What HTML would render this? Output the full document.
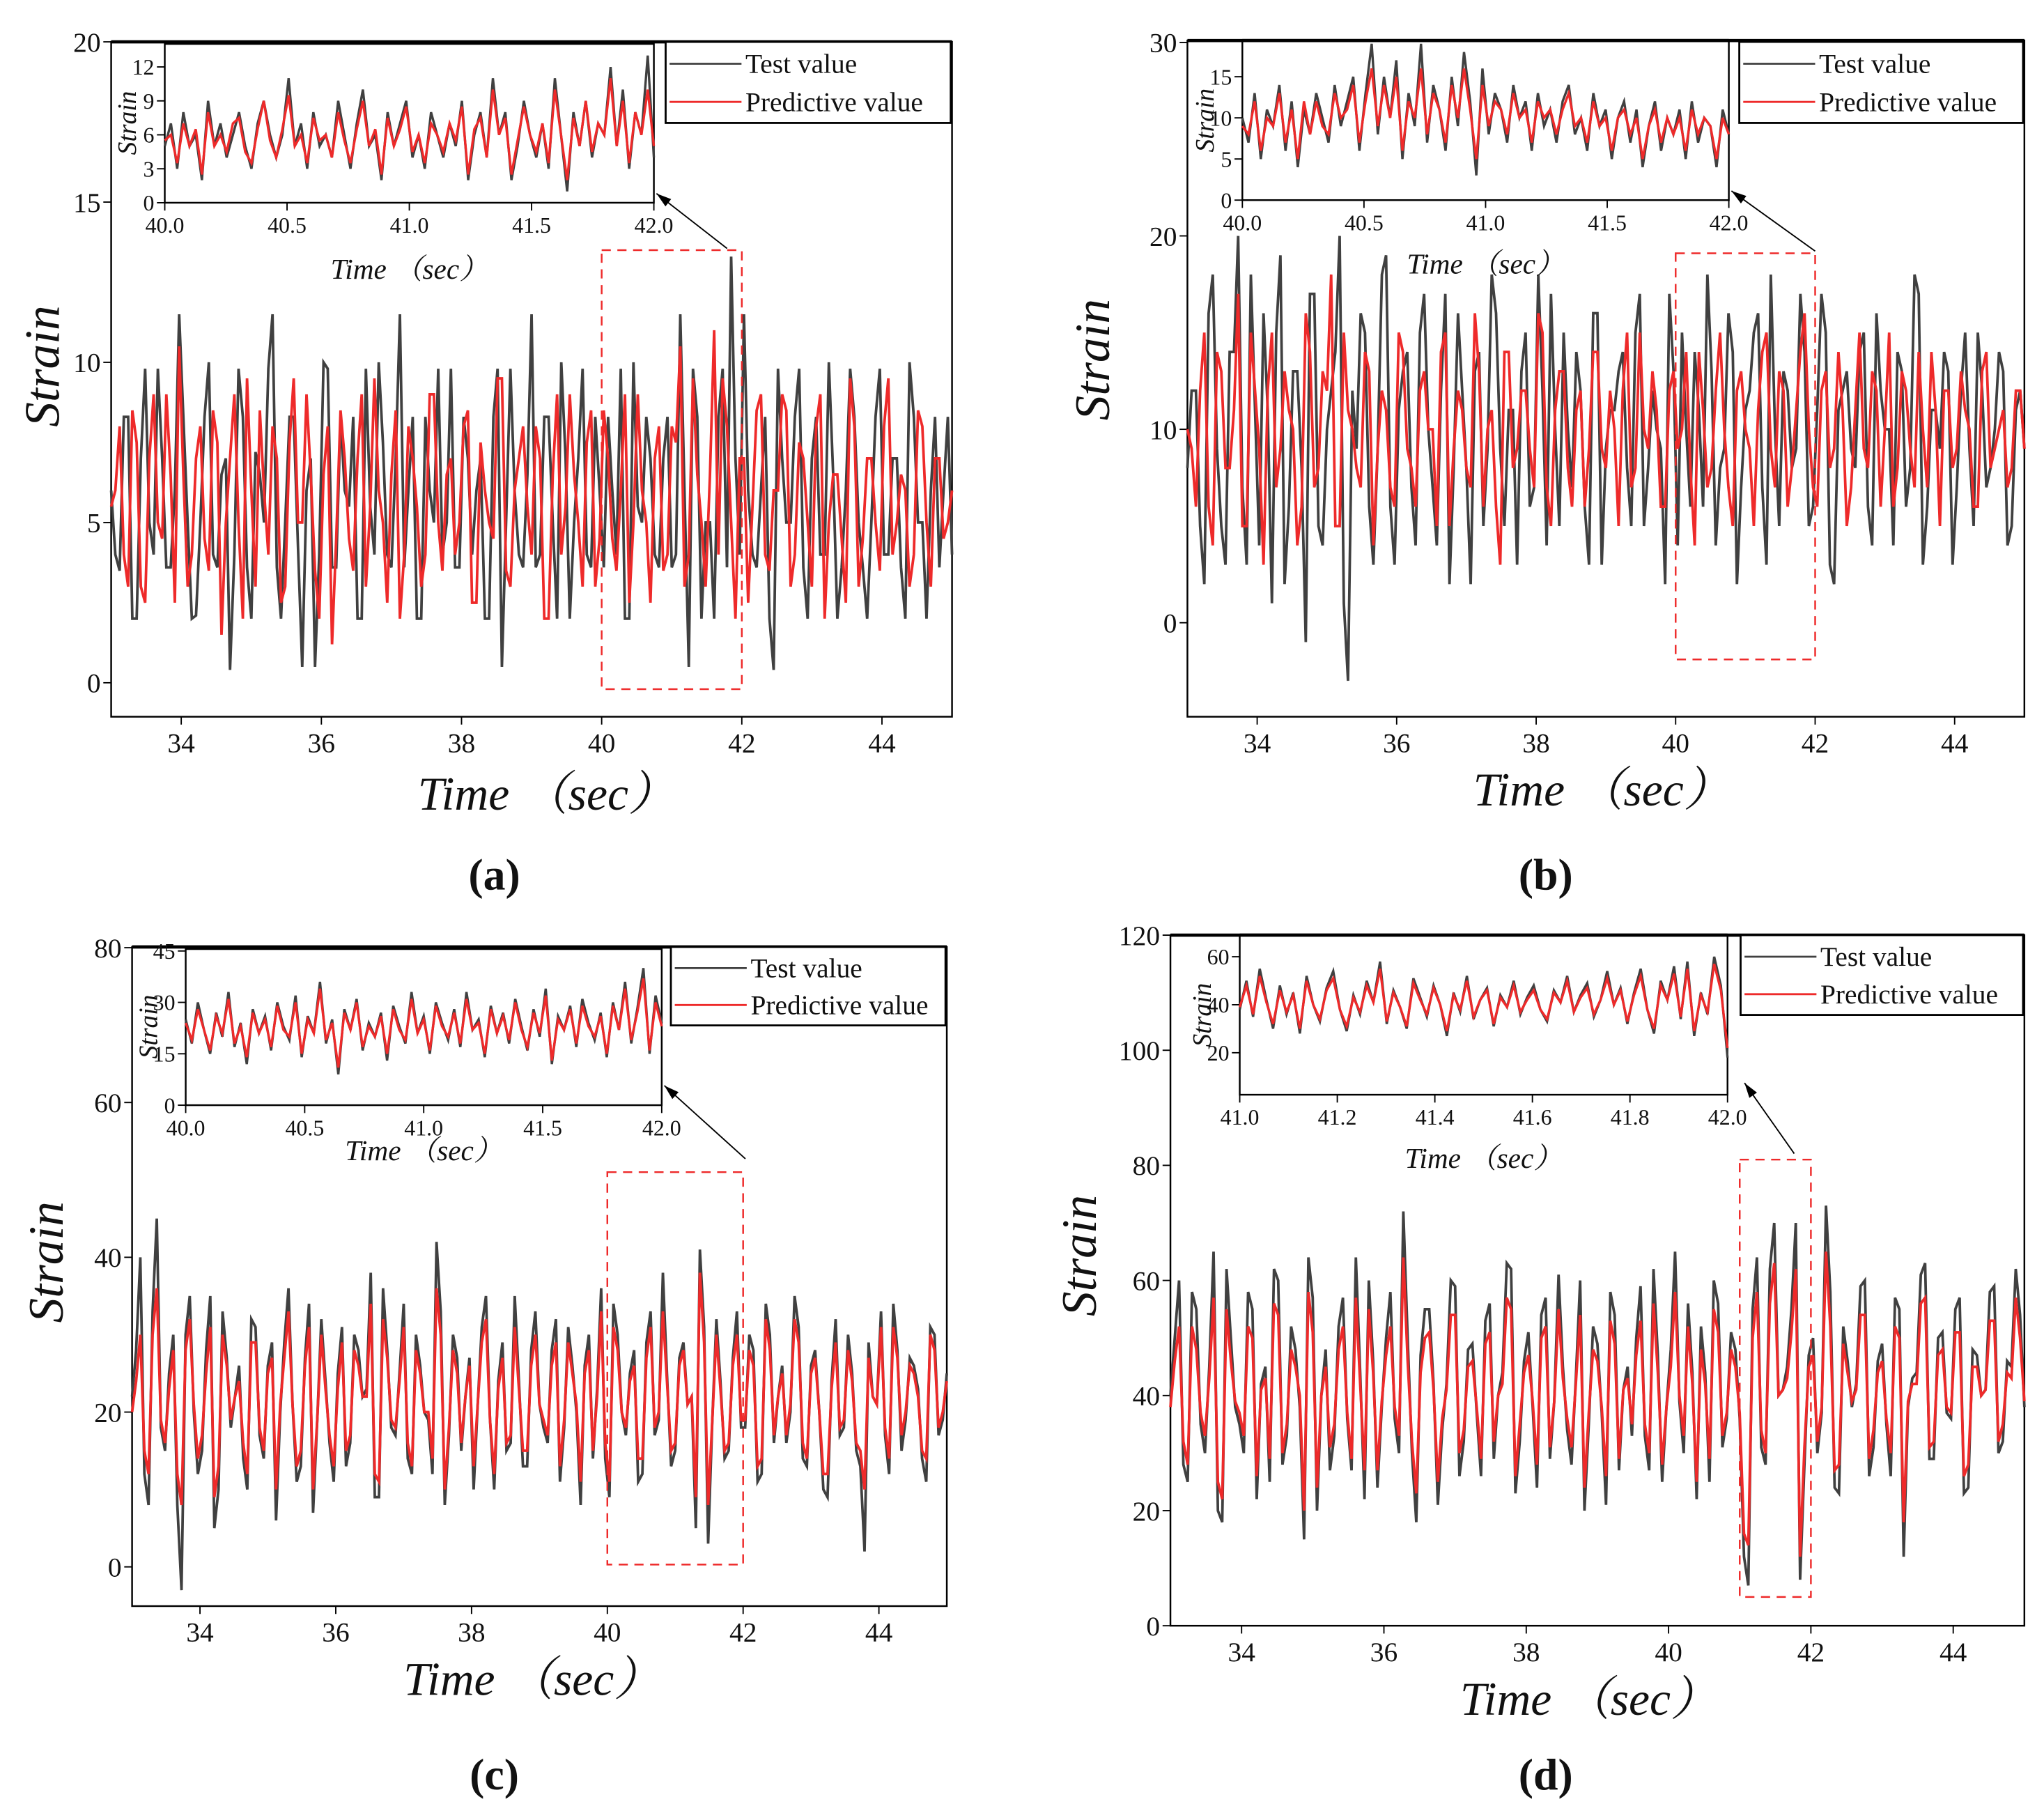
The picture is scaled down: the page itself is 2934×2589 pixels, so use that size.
<!DOCTYPE html>
<html><head><meta charset="utf-8"><style>
html,body{margin:0;padding:0;background:#fff}
svg{display:block}
svg text{font-family:"Liberation Serif","DejaVu Serif","Noto Serif CJK SC",serif;fill:#111}
</style></head><body>
<svg id="fig" width="2934" height="2589" viewBox="0 0 1563 1379.3" preserveAspectRatio="none" font-family="'Liberation Serif', 'DejaVu Serif', serif" xmlns="http://www.w3.org/2000/svg"></svg>
<script>
// ---------- DATA ----------
// even samples
const aTest=[6,3.5,8.3,2,9.8,4,7,3.6,11.5,5,2.1,8.3,4,6.5,0.4,9.8,3.6,7.2,5,11.5,2,8.3,4.2,6,0.5,10,3.6,8.3,5.5,2,9.8,4,7.5,3.6,11.5,6,2,8.3,5,4,9.8,3.6,7,6,2,8.3,0.5,9.8,4,6.5,3.6,8.3,5,10,2,7,4,8.3,3.6,6,9.8,2,5.5,8.3,4,7,3.6,11.5,0.5,8.3,5,2,9.8,13.3,4,6,3.6,8.3,0.4,7,5,9.8,2,8.3,4,6.5,3.6,9.8,5,2,8.3,4,7,3.6,10,5,2,8.3,6,4];
// odd samples
const aTestMid=[4,8.3,2,7,5,9.8,3.6,6,8.3,2,5,10,3.6,7,4,8.3,2,6.5,9.8,3.6,5,8.3,0.5,7,4,9.8,3.6,6,8.3,2,5.5,10,4,7,3.6,8.3,2,6,9.8,5,3.6,8.3,4,7,2,9.8,5,6,3.6,11.5,4,8.3,2,7,5,9.8,3.6,6,8.3,4,2,10,5,7,3.6,8.3,4,6,9.8,2,5,8.3,3.6,7,11.5,4,6,2,9.8,5,8.3,3.6,7,4,10,2,6,8.3,3.6,5,9.8,4,7,2,8.3,5,6,3.6,8.3];
const aPred=[5.5,8,3,7.5,2.5,9,4.5,6.5,10.5,3,7,4.5,8.5,1.5,7,5,9.5,3,6,8,2.5,7.5,5,9,3.5,6.5,1.2,8.5,4.5,7,3,9.5,5,6.5,2,8,5.5,4,9,3.5,7,5,8.5,2.5,6,4.5,9.5,3,7,5.5,8,2,6.5,4,9,5,7.5,3,8.5,4.5,6,2.5,9,5,7,3.5,8,10.5,4,6.5,3,11,9.5,5,7,2.5,8.5,4,6,9,3,7.5,5,8,2,6.5,4.5,9.5,3,7,5,8,4,6.5,3,8.5,5,7,4.5,6];
const aPredMid=[6,4,8.5,3,7,5,9,2.5,6.5,4,8,3.5,7.5,5,9,2,6,8.5,4,7,3,9.5,5,6.5,2,8,4.5,7,3.5,9,5.5,6,2.5,8.5,4,7,3,9,5,6.5,4,8,2.5,7.5,5,9.5,3.5,6,8,4,7,2,9,5.5,6.5,3,8.5,4.5,7,3.5,9,5,6,2.5,8,4,7.5,3,9.5,5,6.5,4,8,2,7,5.5,9,3.5,6,8.5,4,7,3,9,5,6.5,2.5,8,4.5,7,3.5,9.5,5,6,4,8,3,7,5];
const aInTest=[5,7,3,8,5,6,2,9,5,7,4,6,8,5,3,7,9,6,4,6,11,5,7,3,8,5,6,4,9,6,3,7,10,5,6,2,8,5,7,9,4,6,3,8,6,4,7,5,9,2,6,8,4,11,6,8,2,5,9,6,4,7,3,11,6,1,8,5,9,4,7,6,12,5,10,3,8,6,13,4];
const aInPred=[5.5,6,3.5,7,5,6.5,2.5,8,5,6,4.5,7,7.5,4.5,3.5,6.5,9,5.5,4,6.5,9.5,5,6,3.5,7.5,5.5,6,4,8,5.5,3.5,6.5,9,5,6.5,2.5,7.5,5,6.5,8.5,4.5,6,3.5,7,6,4.5,7,5.5,8.5,2.5,6.5,7.5,4,10,6,7.5,2.5,5.5,8.5,6,4.5,7,3.5,10,6,2,7.5,5,9,4.5,7,6,11,5,9,3.5,8,6,10,5];
const bTest=[8,12,2,18,5,14,20,3,11,16,1,19,6,13,-1,17,4,12,20,-3,9,15,3,18,6,11,14,4,17,7,12,2,16,8,13,5,18,9,11,3,15,7,12,17,5,10,14,6,16,3,11,13,8,15,5,12,9,17,4,10,14,6,13,8,16,2,11,15,7,18,5,12,9,14,6,17,3,11,13,8,15,4,12,10,14,6,18,3,11,9,13,7,15,5,12,8,14,4,11,9];
const bTestMid=[12,5,16,9,3,14,7,18,4,11,15,2,13,8,17,5,10,14,1,12,16,6,9,19,3,13,7,15,10,4,17,8,12,2,14,9,16,5,11,13,6,18,4,10,15,7,12,3,16,9,11,14,5,17,8,10,2,13,15,6,11,18,4,9,14,7,12,16,3,10,13,8,17,5,11,15,2,12,9,14,6,16,10,4,13,8,17,6,11,14,3,12,9,15,7,10,13,5,12];
const bPred=[10,6,15,4,13,8,17,5,12,3,15,9,11,4,16,7,13,18,5,11,8,14,4,12,7,15,9,6,13,10,14,5,12,8,16,6,11,3,14,9,12,7,15,5,13,8,11,6,14,9,12,5,15,8,10,13,6,12,9,14,4,11,8,15,7,12,10,5,14,9,13,6,11,16,7,12,8,14,5,11,9,13,6,15,8,12,7,10,14,5,12,9,11,6,13,8,10,7,12,9];
const bPredMid=[9,12,6,14,8,11,5,15,9,12,7,13,10,6,14,8,12,5,15,10,7,13,9,11,6,14,8,12,10,5,15,9,11,7,13,10,6,14,8,12,9,16,7,11,13,6,12,9,14,8,10,12,7,15,9,11,6,13,10,8,14,7,12,10,5,13,9,11,15,7,12,8,14,10,6,13,9,11,7,15,8,12,10,6,13,9,14,7,11,12,8,13,10,6,14,9,11,8,12];
const bInTest=[10,7,13,5,11,9,14,6,12,4,11,8,13,10,7,14,9,12,15,6,13,19,8,15,10,17,5,13,9,19,7,14,11,6,15,9,18,12,3,16,8,13,11,7,14,10,12,6,13,9,11,7,12,14,8,10,6,13,9,11,5,10,12,7,11,4,9,12,6,10,8,11,5,12,7,10,9,4,11,8];
const bInPred=[9,8,12,6,10,9,13,7,11,5,12,8,12,9,8,13,10,11,14,7,12,16,9,14,10,15,6,12,10,16,8,13,11,7,14,10,16,11,5,14,9,12,11,8,13,10,11,7,12,10,11,8,11,13,9,10,7,12,9,10,6,10,11,8,10,5,9,11,7,10,8,10,6,11,8,10,9,5,10,8];
const cTest=[22,40,8,45,15,30,-3,35,12,28,5,33,18,26,10,31,14,29,20,36,11,27,7,32,16,25,13,30,22,38,9,28,17,34,12,26,19,42,8,30,15,27,21,35,10,29,16,24,13,33,18,28,11,31,20,26,14,36,9,30,17,28,12,33,19,25,15,29,22,41,3,32,14,27,18,30,11,34,16,26,20,31,13,28,10,24,17,30,15,2,22,33,12,28,19,26,14,31,17,25];
const cTestMid=[28,12,33,18,25,8,30,20,15,35,10,27,22,14,32,17,26,6,29,21,13,34,19,24,11,31,16,28,23,9,36,18,25,14,30,20,12,33,17,27,22,10,31,19,24,15,35,13,28,21,16,32,18,26,8,30,23,14,34,20,25,11,29,17,38,13,27,21,5,31,19,24,15,33,18,28,12,30,22,16,35,14,26,20,9,32,18,25,13,29,21,17,34,15,27,23,11,30,19];
const cPred=[20,30,12,36,16,28,8,32,14,25,9,30,19,24,12,29,15,27,21,33,13,26,10,30,17,23,15,28,22,34,11,27,18,31,13,25,20,36,10,28,16,26,21,32,12,27,17,23,15,30,19,26,13,29,21,25,15,33,11,28,18,26,14,31,20,24,16,28,22,38,8,30,15,26,19,28,13,32,17,25,21,29,14,27,12,23,18,28,16,10,22,31,14,27,20,25,15,30,18,24];
const cPredMid=[24,15,30,19,23,12,28,21,17,31,13,26,22,16,29,18,25,10,27,21,15,31,19,23,13,29,17,26,22,12,32,19,24,16,28,20,14,30,18,25,22,13,29,19,23,16,31,15,26,21,17,29,19,25,11,28,22,16,31,20,24,14,27,18,33,15,26,21,9,29,19,23,16,30,19,26,14,28,22,17,32,16,25,20,12,29,19,24,15,27,21,18,31,17,26,22,14,28,20];
const cInTest=[25,18,30,22,15,27,20,33,17,24,12,28,21,26,16,30,23,19,32,14,26,21,36,18,25,9,28,22,31,16,24,20,27,13,29,23,18,33,21,26,15,30,24,19,28,17,33,22,25,14,29,21,27,18,31,23,16,28,20,34,12,26,22,29,17,31,24,19,27,14,30,22,36,18,28,40,15,32,24];
const cInPred=[24,19,28,22,16,26,21,31,18,23,14,27,21,25,17,29,22,20,30,15,25,21,34,19,24,11,27,22,30,17,23,20,26,15,28,22,19,31,21,25,16,29,23,20,27,18,31,22,24,15,28,21,26,19,30,22,17,27,21,32,13,25,22,28,18,29,23,20,26,15,29,22,34,19,27,37,16,30,23];
const dTest=[40,60,25,55,30,65,18,50,35,58,22,45,62,28,52,38,64,20,48,33,57,27,44,60,24,50,36,72,30,47,55,21,42,59,32,49,26,56,40,63,23,46,38,54,29,61,34,43,20,52,37,58,27,45,50,33,62,25,48,39,56,22,44,60,31,51,36,7,64,28,70,41,55,8,47,30,73,24,52,38,59,26,46,35,57,12,43,61,29,50,37,55,23,48,40,58,30,46,62,38];
const dTestMid=[50,28,58,35,45,20,62,38,30,55,42,25,60,33,48,15,57,40,27,52,36,64,22,46,38,58,30,50,18,55,42,34,60,26,48,37,53,29,44,62,32,51,24,57,39,45,28,60,35,49,21,54,41,33,59,27,47,38,65,30,44,52,25,56,36,48,12,55,31,62,40,45,70,28,50,37,58,23,46,42,60,31,49,26,55,38,44,63,29,51,36,57,24,47,41,59,32,45,54];
const dPred=[38,52,28,48,33,57,22,46,37,52,26,43,56,30,48,40,58,24,45,35,52,29,42,55,27,47,38,64,32,44,51,25,41,54,34,46,29,51,40,57,26,44,39,50,31,55,36,42,24,48,38,53,29,43,47,35,56,28,45,40,52,25,42,55,33,48,37,14,58,30,63,41,51,12,45,32,65,27,49,39,54,29,44,36,52,18,42,56,31,47,38,51,26,45,40,53,32,44,57,39];
const dPredMid=[46,32,52,37,43,25,55,39,33,50,41,29,54,35,45,20,51,40,31,48,37,57,27,44,39,52,33,46,23,50,41,36,54,30,45,38,49,32,42,55,35,47,28,52,39,43,31,54,37,46,26,49,41,35,53,30,44,38,58,33,42,48,29,51,37,45,16,50,34,56,40,43,62,31,47,38,52,28,44,41,54,34,46,30,50,39,42,57,32,48,37,51,28,45,41,53,35,43,50];
const dInTest=[38,50,35,55,42,30,48,36,45,28,52,40,33,47,54,38,29,44,36,50,41,58,32,46,39,30,51,43,35,48,40,27,45,37,52,34,42,47,31,44,39,50,36,43,48,38,33,46,41,52,37,44,49,35,42,54,40,47,32,45,55,38,28,50,42,56,34,58,27,45,36,60,48,18];
const dInPred=[39,48,36,52,41,32,46,37,44,30,50,40,34,46,51,38,31,43,37,48,41,55,33,45,39,31,49,42,36,47,40,29,44,38,50,35,42,46,32,43,39,48,37,42,46,38,34,45,41,50,37,43,47,36,42,51,40,46,33,44,52,38,30,48,42,53,35,55,29,44,37,57,46,22];
const mainXTicks=[34,36,38,40,42,44];
const aYTicks=[0,5,10,15,20];
const bYTicks=[0,10,20,30];
const cYTicks=[0,20,40,60,80];
const dYTicks=[0,20,40,60,80,100,120];
const aInY=[0,3,6,9,12], bInY=[0,5,10,15], cInY=[0,15,30,45], dInY=[20,40,60];
const inX=[40.0,40.5,41.0,41.5,42.0], dInX=[41.0,41.2,41.4,41.6,41.8,42.0];

// ---------- DRAW ----------
const NS="http://www.w3.org/2000/svg";
const FONT="'Liberation Serif','DejaVu Serif','Noto Serif CJK SC',serif";
const fig=document.getElementById('fig');
function interleave(a,b){const r=[];a.forEach((v,i)=>{r.push(v);if(i<b.length)r.push(b[i]);});return r;}
function el(tag,attrs,parent,txt){const e=document.createElementNS(NS,tag);for(const k in attrs)e.setAttribute(k,attrs[k]);if(tag==='text')e.setAttribute('font-family',FONT);if(txt!==undefined)e.textContent=txt;(parent||fig).appendChild(e);return e;}
function scale(d0,d1,r0,r1){return v=>r0+(v-d0)*(r1-r0)/(d1-d0);}
function series(g,vals,xd,sx,sy,color,w,name){
  const n=vals.length;let p='';
  vals.forEach((v,i)=>{const t=xd[0]+i*(xd[1]-xd[0])/(n-1);p+=(i?'L':'M')+sx(t).toFixed(1)+','+sy(v).toFixed(1);});
  const e=el('path',{d:p,fill:'none',stroke:color,'stroke-width':w,'stroke-linejoin':'miter'},g);
  
  
}
function axes(g,b,xd,yd,xt,yt,fs,dec,tag){
  const sx=scale(xd[0],xd[1],b.x0,b.x1), sy=scale(yd[0],yd[1],b.y1,b.y0);
  const fr=el('rect',{x:b.x0,y:b.y0,width:b.x1-b.x0,height:b.y1-b.y0,fill:'none',stroke:'#000','stroke-width':1.3},g);
  
  
  el('line',{x1:b.x0,y1:b.y0,x2:b.x1,y2:b.y0,stroke:'#000','stroke-width':2.5},g);
  const xa=el('g',{},g);
  
  
  xt.forEach(v=>{const x=sx(v);el('line',{x1:x,y1:b.y1,x2:x,y2:b.y1+6,stroke:'#000'},xa);
    el('text',{x:x,y:b.y1+fs+6,'font-size':fs,'text-anchor':'middle'},xa,v.toFixed(dec));});
  const ya=el('g',{},g);
  
  
  yt.forEach(v=>{const y=sy(v);el('line',{x1:b.x0-6,y1:y,x2:b.x0,y2:y,stroke:'#000'},ya);
    el('text',{x:b.x0-8,y:y+fs*0.35,'font-size':fs,'text-anchor':'end'},ya,String(v));});
  return {sx,sy};
}
function panel(P){
  const g=el('g',{});
  
  
  const m=axes(g,P.box,P.xd,P.yd,mainXTicks,P.yt,21,0,'main-'+P.id);
  const cg=el('g',{},g);
  series(cg,P.test,P.xd,m.sx,m.sy,'#404040',2.0,'test-series-'+P.id);
  series(cg,P.pred,P.xd,m.sx,m.sy,'#ee2a2a',2.0,'predictive-series-'+P.id);
  const ib=P.ibox;
  const bg=el('rect',{x:ib.x0,y:ib.y0,width:ib.x1-ib.x0,height:ib.y1-ib.y0,fill:'#fff'},g);
  
  
  const im=axes(g,ib,P.ixd,P.iyd,P.ixt,P.iyt,17,P.idec,'inset-'+P.id);
  series(g,P.itest,P.ixd,im.sx,im.sy,'#404040',1.8,'inset-test-series-'+P.id);
  series(g,P.ipred,P.ixd,im.sx,im.sy,'#ee2a2a',1.8,'inset-predictive-series-'+P.id);
  const it=el('text',{x:(ib.x0+ib.x1)/2-ib.shift,y:P.itLabelY,'font-size':22,'font-style':'italic','text-anchor':'middle'},g,'Time （sec）');
  
  
  const iy=el('text',{x:0,y:0,'font-size':20,'font-style':'italic','text-anchor':'middle',transform:`translate(${ib.x0-22},${(ib.y0+ib.y1)/2}) rotate(-90)`},g,'Strain');
  
  
  const L=P.leg;
  const lg=el('g',{},g);
  
  
  el('rect',{x:L.x,y:L.y,width:L.w,height:L.h,fill:'#fff',stroke:'#000','stroke-width':1.5},lg);
  el('line',{x1:L.x+3,y1:L.y+L.h*0.27,x2:L.x+58,y2:L.y+L.h*0.27,stroke:'#404040','stroke-width':1.5},lg);
  el('text',{x:L.x+61,y:L.y+L.h*0.27+7,'font-size':21},lg,'Test value');
  el('line',{x1:L.x+3,y1:L.y+L.h*0.74,x2:L.x+58,y2:L.y+L.h*0.74,stroke:'#ee2a2a','stroke-width':1.5},lg);
  el('text',{x:L.x+61,y:L.y+L.h*0.74+7,'font-size':21},lg,'Predictive value');
  const db=P.dbox;
  const dr=el('rect',{x:m.sx(db.x0),y:m.sy(db.y1),width:m.sx(db.x1)-m.sx(db.x0),height:m.sy(db.y0)-m.sy(db.y1),fill:'none',stroke:'#ee2a2a','stroke-width':1.3,'stroke-dasharray':'7,5'},g);
  
  
  const A=P.arrow;
  el('line',{x1:A[0],y1:A[1],x2:A[2],y2:A[3],stroke:'#000','stroke-width':1},g);
  const ang=Math.atan2(A[3]-A[1],A[2]-A[0]);
  const ah=[[A[2],A[3]],[A[2]-12*Math.cos(ang-0.3),A[3]-12*Math.sin(ang-0.3)],[A[2]-12*Math.cos(ang+0.3),A[3]-12*Math.sin(ang+0.3)]];
  const ar=el('polygon',{points:ah.map(p=>p.join(',')).join(' '),fill:'#000'},g);
  
  
  const xt=el('text',{x:P.xl[0],y:P.xl[1],'font-size':36,'font-style':'italic','text-anchor':'middle'},g,'Time （sec）');
  
  
  const yt=el('text',{x:0,y:0,'font-size':38,'font-style':'italic','text-anchor':'middle',transform:`translate(${P.yl[0]},${P.yl[1]}) rotate(-90)`},g,'Strain');
  
  
  const cap=el('text',{x:P.cap[0],y:P.cap[1],'font-size':34,'font-weight':'bold','text-anchor':'middle'},g,'('+P.id+')');
  
  
}
panel({id:'a',box:{x0:85,x1:728,y0:32,y1:548},xd:[33,45],yd:[-1.06,20.0],yt:aYTicks,test:interleave(aTest,aTestMid),pred:interleave(aPred,aPredMid),
  ibox:{x0:126,x1:500,y0:33,y1:155,shift:-0},ixd:[40,42],iyd:[0,14.1],ixt:inX,iyt:aInY,idec:1,itest:aInTest,ipred:aInPred,itLabelY:213,
  leg:{x:509,y:32,w:218,h:62},dbox:{x0:40,x1:42,y0:-0.2,y1:13.5},arrow:[556,190,502,148],xl:[418,619],yl:[45,280],cap:[378,680]});
panel({id:'b',box:{x0:908,x1:1548,y0:31,y1:548},xd:[33,45],yd:[-4.86,30.1],yt:bYTicks,test:interleave(bTest,bTestMid),pred:interleave(bPred,bPredMid),
  ibox:{x0:950,x1:1322,y0:31,y1:153,shift:0},ixd:[40,42],iyd:[0,19.4],ixt:inX,iyt:bInY,idec:1,itest:bInTest,ipred:bInPred,itLabelY:209,
  leg:{x:1330,y:32,w:217,h:62},dbox:{x0:40,x1:42,y0:-1.9,y1:19.1},arrow:[1388,192,1324,146],xl:[1225,616],yl:[848,275],cap:[1182,680]});
panel({id:'c',box:{x0:101,x1:724,y0:724,y1:1228},xd:[33,45],yd:[-5.07,80.1],yt:cYTicks,test:interleave(cTest,cTestMid),pred:interleave(cPred,cPredMid),
  ibox:{x0:142,x1:506,y0:725,y1:845,shift:0},ixd:[40,42],iyd:[0,45.8],ixt:inX,iyt:cInY,idec:1,itest:cInTest,ipred:cInPred,itLabelY:887,
  leg:{x:513,y:724,w:210,h:60},dbox:{x0:40,x1:42,y0:0.3,y1:51},arrow:[570,886,508,830],xl:[407,1296],yl:[48,965],cap:[378,1368]});
panel({id:'d',box:{x0:895,x1:1548,y0:715,y1:1243},xd:[33,45],yd:[0,120],yt:dYTicks,test:interleave(dTest,dTestMid),pred:interleave(dPred,dPredMid),
  ibox:{x0:948,x1:1321,y0:715,y1:837,shift:0},ixd:[41,42],iyd:[2.5,69],ixt:dInX,iyt:dInY,idec:1,itest:dInTest,ipred:dInPred,itLabelY:893,
  leg:{x:1331,y:715,w:216,h:61},dbox:{x0:41,x1:42,y0:5,y1:81},arrow:[1372,882,1334,828],xl:[1215,1311],yl:[838,960],cap:[1182,1368]});
</script>
</body></html>
